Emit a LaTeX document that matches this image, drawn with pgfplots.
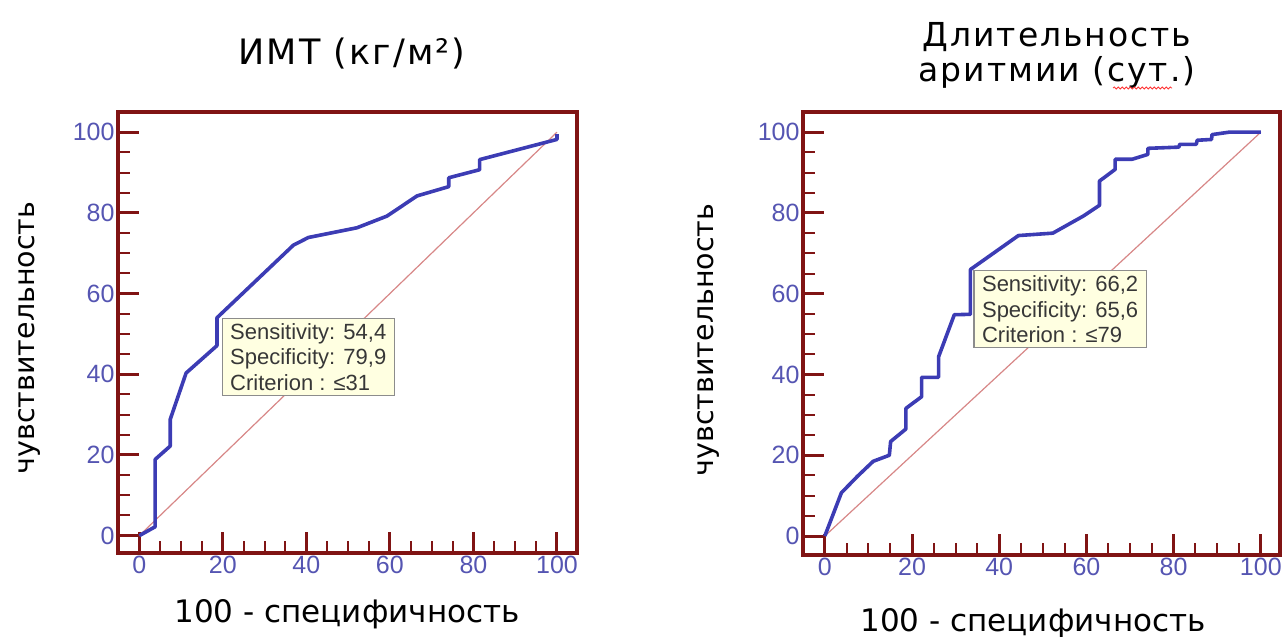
\documentclass[border=0pt]{standalone}
\usepackage{fontspec}
\setmainfont{Liberation Sans}
\newfontfamily\dv{DejaVu Sans}
\newfontfamily\dvw{DejaVu Sans}[LetterSpace=6]
\usepackage{pgfplots}
\pgfplotsset{compat=1.18}
\usetikzlibrary{decorations.pathmorphing}
\definecolor{framec}{RGB}{128,20,20}
\definecolor{tickblue}{RGB}{85,85,178}
\definecolor{curvec}{RGB}{60,60,180}
\definecolor{diagc}{RGB}{215,135,135}
\definecolor{boxfill}{RGB}{255,255,225}
\definecolor{boxdraw}{RGB}{140,140,140}
\definecolor{boxtext}{RGB}{55,55,55}
\pgfplotsset{rocstyle/.style={
  scale only axis,
  axis line style={framec, line width=3.2pt},
  xtick={0,20,...,100}, ytick={0,20,...,100},
  minor x tick num=3, minor y tick num=3,
  tick align=inside, tick pos=left,
  major tick length=21pt, minor tick length=12pt,
  every tick/.style={framec, line width=3pt},
  every minor tick/.style={framec, line width=2pt},
  ticklabel style={font=\fontsize{25}{25}\selectfont, text=tickblue},
  /pgf/number format/assume math mode=true,
}}
\begin{document}
\begin{tikzpicture}
\useasboundingbox (0,0) rectangle (1285pt,637pt);
% left
\begin{axis}[rocstyle, at={(118pt,84pt)}, anchor=south west,
  width=459pt, height=441pt, xmin=-5.1, xmax=104.8, ymin=-4.3, ymax=105]
\addplot[diagc, line width=1.2pt] coordinates {(0,0) (100,100)};
\addplot[curvec, line width=3.6pt, line join=round] coordinates {
(0,0) (3.8,2.2) (3.8,18.9) (7.4,22.2) (7.4,28.8) (11.2,40.3) (18.6,47.1)
(18.6,54.0) (36.9,72.0) (40.5,73.9) (52.1,76.3) (59.3,79.2) (66.5,84.2)
(74.1,86.5) (74.1,88.7) (81.5,90.7) (81.5,93.2) (100,98.2) (100,99.5)};
\node[draw=boxdraw, fill=boxfill, line width=1.2pt, anchor=north west, align=left,
  inner xsep=8pt, inner ysep=5pt, text=boxtext, font=\fontsize{22}{25.6}\selectfont]
  at (axis cs:19.7,54) {Sensitivity: 54,4\\Specificity: 79,9\\Criterion : ≤31};
\end{axis}
% right
\begin{axis}[rocstyle, at={(803pt,82pt)}, anchor=south west,
  width=477pt, height=443pt, xmin=-5.0, xmax=104.4, ymin=-4.7, ymax=105]
\addplot[diagc, line width=1.2pt] coordinates {(0,0) (100,100)};
\addplot[curvec, line width=3.6pt, line join=round] coordinates {
(0,0) (3.8,10.7) (7.5,14.8) (11.1,18.5) (14.8,20.0) (15.1,23.4) (18.6,26.5)
(18.6,31.6) (22.2,34.5) (22.2,39.3) (26.1,39.3) (26.1,44.4) (29.7,54.8)
(33.4,54.9) (33.4,66.0) (44.4,74.4) (52.3,75.0) (59.4,79.3) (63.0,81.9)
(63.0,87.9) (66.6,90.8) (66.6,93.3) (70.5,93.3) (74.1,94.5) (74.1,96.0)
(81.2,96.3) (81.4,97.0) (85.2,97.0) (85.4,98.0) (88.7,98.2) (88.8,99.4)
(92.7,100) (100,100)};
\node[draw=boxdraw, fill=boxfill, line width=1.2pt, anchor=north west, align=left,
  inner xsep=8pt, inner ysep=5pt, text=boxtext, font=\fontsize{22}{25.6}\selectfont]
  at (axis cs:34.1,65.9) {Sensitivity: 66,2\\Specificity: 65,6\\Criterion : ≤79};
\end{axis}
% titles and labels
\node[font=\dvw\fontsize{35}{36}\selectfont, anchor=base] at (352pt,572pt) {ИМТ (кг/м²)};
\node[font=\dvw\fontsize{33}{36}\selectfont, anchor=base] at (1057pt,590pt) {Длительность};
\node[font=\dvw\fontsize{33}{36}\selectfont, anchor=base] at (1057pt,555pt) {аритмии (сут.)};
\draw[red!80, line width=0.8pt, decorate, decoration={snake, amplitude=1pt, segment length=4pt}]
  (1113pt,549pt) -- (1172pt,549pt);
\node[font=\dv\fontsize{31}{31}\selectfont, anchor=base] at (347pt,14pt) {100 - специфичность};
\node[font=\dv\fontsize{31}{31}\selectfont, anchor=base] at (1033pt,5pt) {100 - специфичность};
\node[font=\dv\fontsize{28.5}{28}\selectfont, rotate=90, anchor=base] at (34pt,299pt) {чувствительность};
\node[font=\dv\fontsize{28.5}{28}\selectfont, rotate=90, anchor=base] at (713pt,297pt) {чувствительность};
\end{tikzpicture}
\end{document}
